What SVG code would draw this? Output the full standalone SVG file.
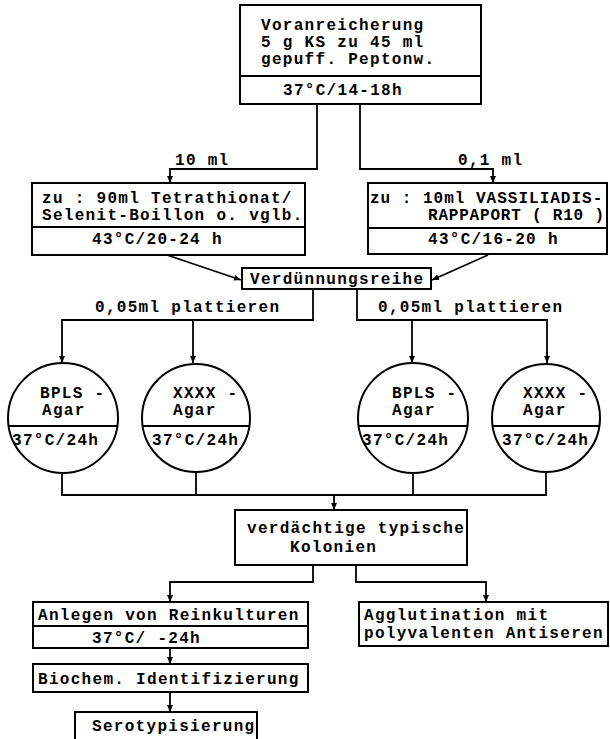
<svg xmlns="http://www.w3.org/2000/svg" width="610" height="739" viewBox="0 0 610 739">
<defs>
<style>
.b{fill:#fff;stroke:#000;stroke-width:2}
.l{fill:none;stroke:#000;stroke-width:2}
.c{fill:none;stroke:#000;stroke-width:1.8}
text{font-family:"Liberation Mono","DejaVu Sans Mono",monospace;font-size:16px;font-weight:bold;letter-spacing:1.3px;fill:#000}
</style>
<marker id="ah" markerWidth="8" markerHeight="9" refX="7" refY="4.5" orient="auto" markerUnits="userSpaceOnUse">
<path d="M0,1.5 L7,4.5 L0,7.5 z" fill="#000"/>
</marker>
</defs>
<rect width="610" height="739" fill="#fff"/>

<g id="connectors">
<path class="c" d="M317,104 V169 H170 V183" marker-end="url(#ah)"/>
<path class="c" d="M360,104 V169 H493 V183" marker-end="url(#ah)"/>
<path class="c" d="M167,255 L241,280" marker-end="url(#ah)"/>
<path class="c" d="M488,255 L432,280" marker-end="url(#ah)"/>
<path class="c" d="M313,289 V320 H62 V363" marker-end="url(#ah)"/>
<path class="c" d="M193,320 V363" marker-end="url(#ah)"/>
<path class="c" d="M357,289 V320 H547 V363" marker-end="url(#ah)"/>
<path class="c" d="M412,320 V363" marker-end="url(#ah)"/>
<path class="c" d="M62,473 V495 H546 V472"/>
<path class="c" d="M196,472 V495 M413,473 V495"/>
<path class="c" d="M334,495 V510" marker-end="url(#ah)"/>
<path class="c" d="M313,565 V582 H170 V602" marker-end="url(#ah)"/>
<path class="c" d="M356,565 V582 H486 V602" marker-end="url(#ah)"/>
<path class="c" d="M170,648 V664" marker-end="url(#ah)"/>
<path class="c" d="M170,692 V712" marker-end="url(#ah)"/>
<text x="175" y="165">10 ml</text>
<text x="458" y="165">0,1 ml</text>
<text x="95" y="312">0,05ml plattieren</text>
<text x="378" y="312">0,05ml plattieren</text>
</g>

<g id="voranreicherung">
<rect class="b" x="240" y="5" width="241" height="99"/>
<line class="l" x1="240" y1="76" x2="481" y2="76"/>
<text x="261" y="30">Voranreicherung</text>
<text x="261" y="47">5 g KS zu 45 ml</text>
<text x="261" y="64">gepuff. Peptonw.</text>
<text x="283" y="95">37°C/14-18h</text>
</g>

<g id="tetrathionat">
<rect class="b" x="32" y="183" width="273" height="72"/>
<line class="l" x1="32" y1="227" x2="305" y2="227"/>
<text x="42" y="203">zu : 90ml Tetrathionat/</text>
<text x="42" y="220">Selenit-Boillon o. vglb.</text>
<text x="92" y="244">43°C/20-24 h</text>
</g>

<g id="rappaport">
<rect class="b" x="368" y="183" width="239" height="71"/>
<line class="l" x1="368" y1="228" x2="607" y2="228"/>
<text x="370" y="203" style="letter-spacing:1px">zu : 10ml VASSILIADIS-</text>
<text x="428" y="220" style="letter-spacing:0.8px">RAPPAPORT ( R10 )</text>
<text x="428" y="244">43°C/16-20 h</text>
</g>

<g id="verduennung">
<rect class="b" x="242" y="268" width="189" height="21"/>
<text x="250" y="284">Verdünnungsreihe</text>
</g>

<g id="agar1">
<circle class="b" cx="63" cy="418" r="55"/>
<line class="l" x1="8.6" y1="426" x2="117.4" y2="426"/>
<text x="40" y="398">BPLS -</text>
<text x="42" y="415">Agar</text>
<text x="12" y="445">37°C/24h</text>
</g>

<g id="agar2">
<circle class="b" cx="196" cy="418" r="54"/>
<line class="l" x1="142.6" y1="426" x2="249.4" y2="426"/>
<text x="173" y="398">XXXX -</text>
<text x="173" y="415">Agar</text>
<text x="152" y="445">37°C/24h</text>
</g>

<g id="agar3">
<circle class="b" cx="413" cy="418" r="55"/>
<line class="l" x1="358.6" y1="426" x2="467.4" y2="426"/>
<text x="392" y="398">BPLS -</text>
<text x="392" y="415">Agar</text>
<text x="362" y="445">37°C/24h</text>
</g>

<g id="agar4">
<circle class="b" cx="546" cy="418" r="54"/>
<line class="l" x1="492.6" y1="426" x2="599.4" y2="426"/>
<text x="523" y="398">XXXX -</text>
<text x="523" y="415">Agar</text>
<text x="502" y="445">37°C/24h</text>
</g>

<g id="kolonien">
<rect class="b" x="235" y="510" width="232" height="55"/>
<text x="247" y="533">verdächtige typische</text>
<text x="290" y="552">Kolonien</text>
</g>

<g id="reinkulturen">
<rect class="b" x="33" y="602" width="275" height="46"/>
<line class="l" x1="33" y1="626" x2="308" y2="626"/>
<text x="38" y="620">Anlegen von Reinkulturen</text>
<text x="92" y="643">37°C/ -24h</text>
</g>

<g id="agglutination">
<rect class="b" x="359" y="602" width="249" height="44"/>
<text x="364" y="620">Agglutination mit</text>
<text x="364" y="638">polyvalenten Antiseren</text>
</g>

<g id="biochem">
<rect class="b" x="33" y="664" width="275" height="28"/>
<text x="38" y="684">Biochem. Identifizierung</text>
</g>

<g id="serotyp">
<rect class="b" x="75" y="712" width="182" height="34"/>
<text x="92" y="731">Serotypisierung</text>
</g>
</svg>
